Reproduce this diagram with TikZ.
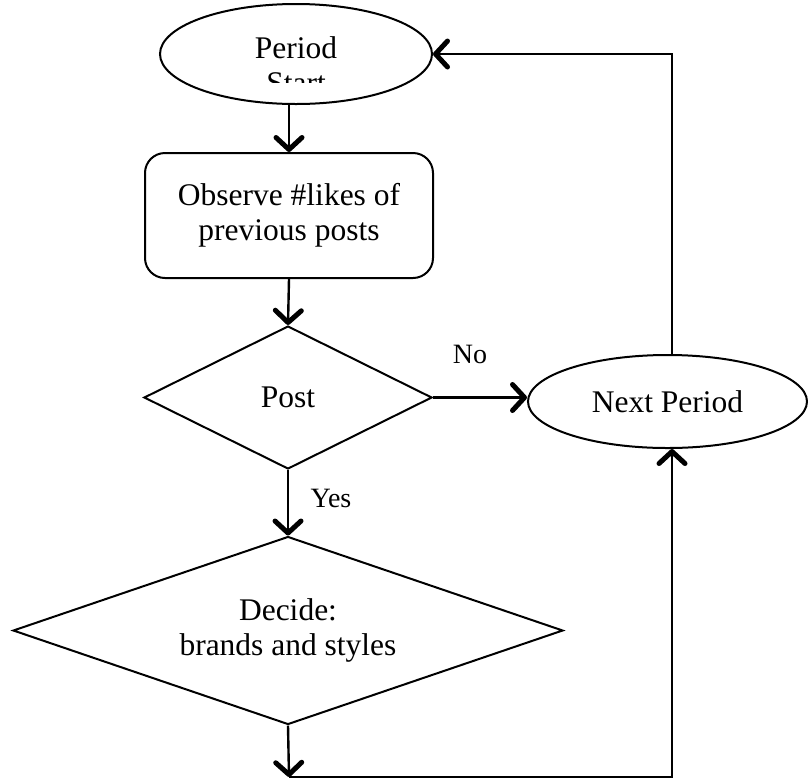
\documentclass[tikz,border=0pt]{standalone}
\usepackage{fontspec}
\setmainfont{Liberation Serif}
\usetikzlibrary{shapes.geometric,arrows.meta,calc}
\begin{document}
\begin{tikzpicture}[x=1pt,y=-1pt,
  shp/.style={draw=black, line width=2pt, inner sep=0pt, font=\fontsize{31.5}{35}\selectfont, align=center},
  ell/.style={shp, ellipse},
  dia/.style={shp, diamond},
  rbox/.style={shp, rectangle, rounded corners=20pt},
  txt/.style={font=\fontsize{31.5}{35}\selectfont, inner sep=0pt},
  lbl/.style={font=\fontsize{28}{32}\selectfont, inner sep=0pt},
  arr/.style={line width=2.4pt, -{Straight Barb[length=12pt, width=26pt, line width=5pt, round]}}
]
\useasboundingbox (0,0) rectangle (808,780);
% nodes
\node[ell, minimum width=272pt, minimum height=100pt] (ps) at (296,54) {};
\node[txt, anchor=base] (pst) at (296,58) {Period};
\begin{scope}
  \clip (150,0) rectangle (450,82);
  \node[txt, anchor=base] (pst2) at (296,93) {Start};
\end{scope}
\node[rbox, minimum width=288pt, minimum height=125pt] (obs) at (289,215.5) {Observe \#likes of\\previous posts};
\node[dia, minimum width=288pt, minimum height=143pt, aspect=2] (post) at (288,397.5) {Post};
\node[ell, minimum width=279pt, minimum height=93pt] (np) at (667.5,401.5) {Next Period};
\node[dia, minimum width=550pt, minimum height=188pt, aspect=2.9] (dec) at (288,630.5) {Decide:\\brands and styles};
\node[lbl] (no) at (470,354) {No};
\node[lbl] (yes) at (331,498) {Yes};
\coordinate (tr) at (672,54);
\coordinate (bl) at (289,777);
\coordinate (br) at (672,777);
% connectors
\draw[arr] (ps.south -| obs.north) -- (obs.north);
\draw[arr] (obs.south) -- (post.north);
\draw[arr] (post.east) -- (post.east -| np.west);
\draw[arr] (post.south) -- (dec.north);
\draw[arr] (np.north -| tr) -- (tr) -- (ps.east);
\draw[arr] (dec.south) -- (bl);
\draw[arr] (bl) -- (br) -- (np.south -| br);
\end{tikzpicture}
\end{document}
